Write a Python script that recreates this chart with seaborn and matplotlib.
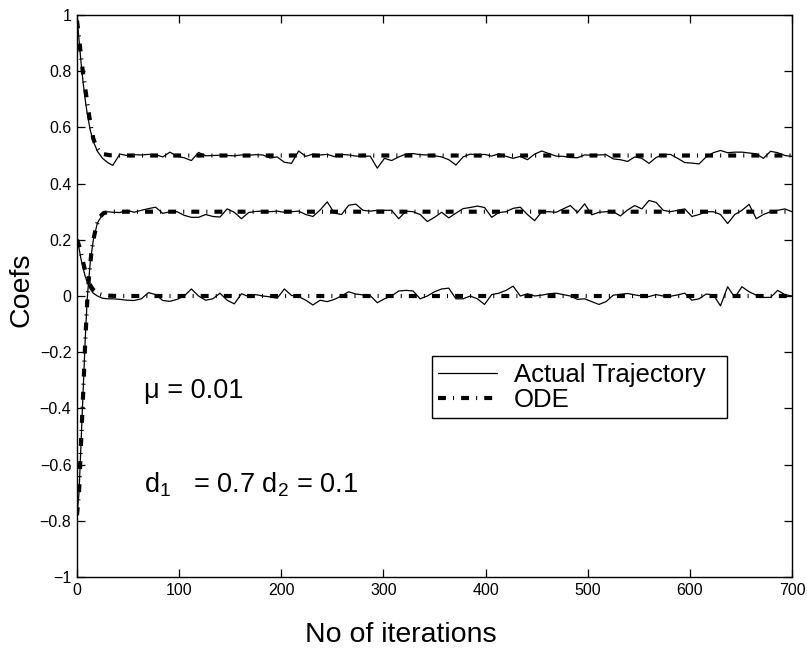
import numpy as np
import pandas as pd
import matplotlib
matplotlib.use("Agg")
import matplotlib.pyplot as plt
import seaborn as sns

# ---------------- data ----------------
# iterations at which the "actual trajectory" is plotted
iter_transient = [0, 2, 4, 6, 8, 10, 13, 16, 20, 25, 30]
iter_steady = list(range(35, 701, 7))
iters_actual = iter_transient + iter_steady

coef1_actual = [1.0, 0.91, 0.83, 0.76, 0.70, 0.65, 0.59, 0.55, 0.515, 0.49, 0.475,
    0.465, 0.505, 0.500, 0.503, 0.502, 0.504, 0.503, 0.495, 0.512, 0.497,
    0.492, 0.482, 0.511, 0.499, 0.500, 0.501, 0.500, 0.499, 0.502, 0.501,
    0.503, 0.502, 0.491, 0.495, 0.476, 0.472, 0.516, 0.497, 0.505, 0.502,
    0.504, 0.496, 0.504, 0.502, 0.498, 0.497, 0.498, 0.455, 0.490, 0.482,
    0.495, 0.505, 0.507, 0.503, 0.502, 0.499, 0.495, 0.485, 0.466, 0.495,
    0.505, 0.502, 0.504, 0.498, 0.506, 0.497, 0.490, 0.497, 0.485, 0.505,
    0.516, 0.507, 0.498, 0.497, 0.493, 0.492, 0.502, 0.501, 0.502, 0.503,
    0.488, 0.485, 0.479, 0.495, 0.490, 0.472, 0.493, 0.503, 0.504, 0.490,
    0.475, 0.473, 0.470, 0.495, 0.510, 0.518, 0.510, 0.512, 0.512, 0.509,
    0.506, 0.490, 0.515, 0.510, 0.500, 0.497]

coef2_actual = [-0.78, -0.70, -0.52, -0.34, -0.16, -0.01, 0.12, 0.20, 0.26, 0.29, 0.30,
    0.298, 0.297, 0.305, 0.298, 0.305, 0.311, 0.316, 0.294, 0.300, 0.300,
    0.287, 0.280, 0.280, 0.290, 0.283, 0.281, 0.310, 0.298, 0.275, 0.297,
    0.301, 0.302, 0.300, 0.302, 0.298, 0.300, 0.302, 0.290, 0.283, 0.306,
    0.335, 0.295, 0.290, 0.323, 0.327, 0.305, 0.302, 0.305, 0.305, 0.305,
    0.275, 0.302, 0.300, 0.290, 0.265, 0.280, 0.298, 0.278, 0.295, 0.311,
    0.315, 0.320, 0.315, 0.280, 0.297, 0.300, 0.312, 0.316, 0.290, 0.268,
    0.300, 0.300, 0.298, 0.310, 0.322, 0.297, 0.328, 0.289, 0.298, 0.300,
    0.300, 0.285, 0.306, 0.322, 0.310, 0.340, 0.333, 0.305, 0.300, 0.305,
    0.310, 0.283, 0.290, 0.300, 0.300, 0.290, 0.258, 0.290, 0.305, 0.326,
    0.275, 0.290, 0.300, 0.305, 0.310, 0.300]

coef3_actual = [0.20, 0.17, 0.13, 0.10, 0.07, 0.05, 0.025, 0.01, 0.0, -0.008, -0.01,
    -0.010, -0.012, -0.015, -0.016, -0.010, 0.012, 0.005, -0.016, -0.019, -0.012,
    0.000, 0.025, 0.000, -0.015, -0.010, 0.010, -0.015, -0.028, 0.008, -0.002,
    0.005, 0.000, -0.003, -0.008, 0.025, 0.002, -0.002, -0.015, -0.032, -0.015,
    -0.020, -0.012, 0.000, 0.015, 0.007, 0.004, 0.002, -0.024, -0.010, 0.000,
    0.018, 0.020, 0.018, -0.010, 0.000, 0.015, 0.025, 0.028, -0.010, -0.010,
    0.000, -0.010, -0.030, 0.005, 0.010, 0.020, 0.035, 0.000, 0.008, 0.000,
    0.003, 0.008, 0.010, 0.005, 0.000, -0.012, -0.010, -0.020, -0.030, -0.020,
    0.003, 0.006, 0.009, 0.004, 0.000, -0.002, 0.005, 0.000, -0.001, 0.004,
    0.010, -0.015, -0.010, 0.007, 0.004, -0.035, 0.033, -0.005, 0.033, 0.015,
    0.003, -0.005, -0.005, 0.020, 0.005, 0.000]

# ODE solution
iters_ode = [0, 2, 4, 6, 8, 10, 12, 14, 16, 19, 22, 26, 32, 40, 700]
coef1_ode = [0.98, 0.92, 0.85, 0.79, 0.74, 0.69, 0.64, 0.595, 0.56, 0.53, 0.515, 0.505, 0.501, 0.5, 0.5]
coef2_ode = [-0.78, -0.70, -0.52, -0.35, -0.17, -0.02, 0.08, 0.15, 0.20, 0.25, 0.28, 0.295, 0.30, 0.30, 0.30]
coef3_ode = [0.20, 0.18, 0.15, 0.12, 0.09, 0.065, 0.045, 0.032, 0.022, 0.013, 0.007, 0.003, 0.001, 0.0, 0.0]

xticks = [0, 100, 200, 300, 400, 500, 600, 700]
yticks = [-1, -0.8, -0.6, -0.4, -0.2, 0, 0.2, 0.4, 0.6, 0.8, 1]
ytick_labels = ["\u22121", "\u22120.8", "\u22120.6", "\u22120.4", "\u22120.2", "0",
                "0.2", "0.4", "0.6", "0.8", "1"]

legend_labels = ["Actual Trajectory", "ODE"]
mu_text = "\u03bc = 0.01"
d_text = r"d$_1$   = 0.7 d$_2$ = 0.1"

# ---------------- style ----------------
sns.set_theme(style="white")
plt.rcParams["font.family"] = ["Liberation Sans", "DejaVu Sans"]
plt.rcParams["mathtext.default"] = "regular"
plt.rcParams["mathtext.fontset"] = "custom"
plt.rcParams["mathtext.rm"] = "Liberation Sans"
plt.rcParams["mathtext.it"] = "Liberation Sans"
plt.rcParams["axes.unicode_minus"] = True
plt.rcParams["text.color"] = "black"
plt.rcParams["axes.labelcolor"] = "black"
plt.rcParams["legend.labelcolor"] = "black"

fig = plt.figure(figsize=(8.07, 6.53), dpi=100)
fig.patch.set_facecolor("white")
ax = fig.add_axes([0.0954, 0.1164, 0.886, 0.8606])
ax.set_facecolor("white")

actual_df = pd.DataFrame({"it": iters_actual, "c1": coef1_actual,
                          "c2": coef2_actual, "c3": coef3_actual})
ode_df = pd.DataFrame({"it": iters_ode, "c1": coef1_ode,
                       "c2": coef2_ode, "c3": coef3_ode})

ode_style = (0, (1.9, 1.7, 0.25, 1.7))

for k, col in enumerate(["c1", "c2", "c3"]):
    sns.lineplot(data=actual_df, x="it", y=col, ax=ax, color="black",
                 linewidth=0.9, estimator=None, sort=False,
                 label=legend_labels[0] if k == 0 else None, legend=False)
for k, col in enumerate(["c1", "c2", "c3"]):
    sns.lineplot(data=ode_df, x="it", y=col, ax=ax, color="black",
                 linewidth=3.0, linestyle=ode_style, estimator=None, sort=False,
                 label=legend_labels[1] if k == 0 else None, legend=False)

ax.set_xlim(0, 700)
ax.set_ylim(-1, 1)
ax.set_xticks(xticks)
ax.set_xticklabels([str(t) for t in xticks])
ax.set_yticks(yticks)
ax.set_yticklabels(ytick_labels)
ax.tick_params(direction="in", length=6, width=0.9, color="black",
               labelsize=11.5, labelcolor="black", top=True, right=True,
               bottom=True, left=True, pad=4)
for s in ax.spines.values():
    s.set_color("black")
    s.set_linewidth(1.0)
    s.set_visible(True)

ax.set_xlabel("No of iterations", fontsize=20.5, color="black")
ax.set_ylabel("Coefs", fontsize=20.5, color="black")
ax.xaxis.set_label_coords(0.453, -0.103)
ax.yaxis.set_label_coords(-0.077, 0.511)
ax.xaxis.label.set_verticalalignment("center")
ax.yaxis.label.set_verticalalignment("center")

ax.text(66, -0.363, mu_text, fontsize=19.5, va="baseline", ha="left", color="black")
ax.text(66, -0.701, d_text, fontsize=19.5, va="baseline", ha="left", color="black")

h, l = ax.get_legend_handles_labels()
leg = ax.legend(h[:2], legend_labels, loc="upper left",
                bbox_to_anchor=(0.496, 0.293, 0.4126, 0.1), mode="expand",
                fontsize=18.5, frameon=True,
                fancybox=False, edgecolor="black", framealpha=1,
                handlelength=2.3, handletextpad=0.65, borderpad=0.25,
                labelspacing=0.05, borderaxespad=0)
leg.get_frame().set_linewidth(1.0)
for t in leg.get_texts():
    t.set_color("black")

fig.savefig("out.png", dpi=100, facecolor="white")
